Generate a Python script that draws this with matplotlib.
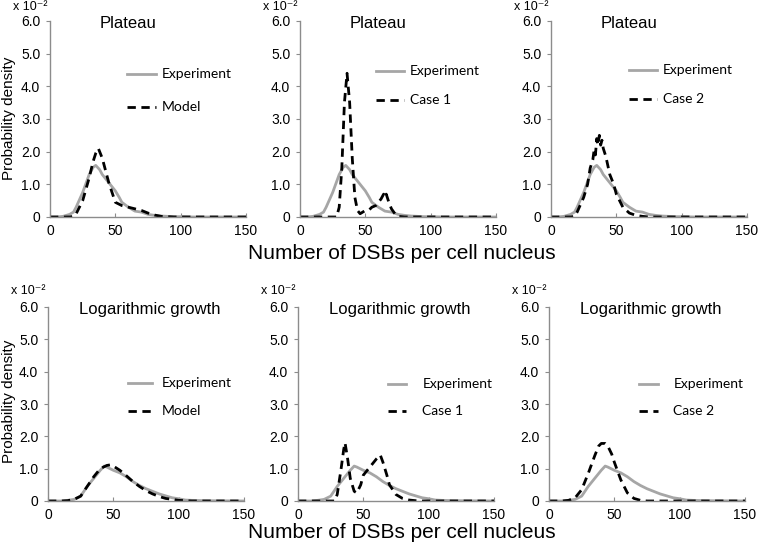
import matplotlib
matplotlib.use("Agg")
import matplotlib.pyplot as plt

# ---------------- data (values in units of 1e-2) ----------------
x_exp_plateau = [0, 5, 10, 15, 18, 20, 25, 30, 33, 35, 38, 40, 45, 50, 53, 55, 60, 65, 70, 75, 80, 85, 90, 95, 100, 110, 120, 150]
y_exp_plateau = [0, 0, 0.02, 0.08, 0.15, 0.3, 0.75, 1.3, 1.52, 1.58, 1.45, 1.3, 1.05, 0.8, 0.6, 0.45, 0.3, 0.18, 0.15, 0.08, 0.05, 0.03, 0.02, 0.01, 0.01, 0, 0, 0]

x_model_plateau = [0, 10, 15, 18, 20, 25, 30, 33, 35, 37, 40, 43, 45, 50, 55, 60, 65, 70, 75, 80, 85, 90, 95, 150]
y_model_plateau = [0, 0, 0, 0.02, 0.1, 0.5, 1.2, 1.7, 1.95, 2.1, 1.8, 1.35, 1.05, 0.45, 0.35, 0.3, 0.25, 0.2, 0.12, 0.06, 0.02, 0.01, 0, 0]

x_case1_plateau = [0, 25, 28, 30, 32, 34, 36, 38, 40, 42, 44, 46, 48, 50, 53, 55, 58, 60, 62, 64, 65, 66, 68, 70, 73, 75, 80, 150]
y_case1_plateau = [0, 0, 0, 0.3, 1.5, 3.5, 4.4, 3.5, 1.8, 0.6, 0.2, 0.1, 0.15, 0.2, 0.22, 0.3, 0.35, 0.45, 0.55, 0.7, 0.6, 0.7, 0.45, 0.25, 0.08, 0.02, 0, 0]

x_case2_plateau = [0, 15, 18, 20, 25, 28, 30, 32, 33, 34, 35, 36, 37, 38, 39, 40, 42, 45, 48, 50, 55, 60, 65, 70, 75, 150]
y_case2_plateau = [0, 0, 0.02, 0.15, 0.6, 1.0, 1.5, 1.75, 2.05, 1.9, 2.4, 2.2, 2.5, 2.2, 2.35, 2.1, 1.85, 1.3, 1.0, 0.7, 0.3, 0.12, 0.05, 0.02, 0, 0]

x_exp_log = [0, 10, 15, 20, 25, 30, 35, 40, 43, 45, 50, 55, 60, 65, 70, 75, 80, 85, 90, 95, 100, 105, 110, 120, 150]
y_exp_log = [0, 0, 0.02, 0.05, 0.15, 0.45, 0.7, 0.95, 1.08, 1.05, 0.95, 0.87, 0.75, 0.6, 0.48, 0.38, 0.3, 0.22, 0.16, 0.1, 0.07, 0.03, 0.02, 0.01, 0]

x_model_log = [0, 10, 15, 20, 25, 30, 35, 40, 45, 48, 50, 55, 60, 65, 70, 75, 80, 85, 90, 95, 100, 105, 110, 150]
y_model_log = [0, 0, 0.01, 0.05, 0.15, 0.45, 0.75, 1.0, 1.1, 1.12, 1.08, 0.95, 0.78, 0.6, 0.45, 0.32, 0.22, 0.14, 0.08, 0.05, 0.02, 0.01, 0, 0]

x_case1_log = [0, 25, 28, 30, 33, 35, 36, 38, 40, 43, 45, 48, 50, 55, 60, 63, 65, 68, 70, 75, 80, 85, 90, 95, 150]
y_case1_log = [0, 0, 0, 0.2, 1.0, 1.6, 1.8, 1.3, 0.7, 0.3, 0.25, 0.5, 0.8, 1.05, 1.3, 1.42, 1.2, 0.8, 0.5, 0.2, 0.08, 0.03, 0.01, 0, 0]

x_case2_log = [0, 10, 15, 20, 25, 30, 35, 38, 40, 43, 45, 48, 50, 55, 60, 65, 70, 75, 150]
y_case2_log = [0, 0, 0.02, 0.1, 0.35, 0.85, 1.4, 1.7, 1.78, 1.78, 1.7, 1.45, 1.2, 0.65, 0.25, 0.08, 0.02, 0, 0]

row_titles = ["Plateau", "Logarithmic growth"]
case_labels = ["Model", "Case 1", "Case 2"]
x_ticks = [0, 50, 100, 150]
y_ticks = [0, 1, 2, 3, 4, 5, 6]
y_tick_labels = ["0", "1.0", "2.0", "3.0", "4.0", "5.0", "6.0"]

exp_data = [(x_exp_plateau, y_exp_plateau), (x_exp_log, y_exp_log)]
sim_data = [
    [(x_model_plateau, y_model_plateau), (x_case1_plateau, y_case1_plateau), (x_case2_plateau, y_case2_plateau)],
    [(x_model_log, y_model_log), (x_case1_log, y_case1_log), (x_case2_log, y_case2_log)],
]

# ---------------- figure ----------------
W, H = 758, 549
fig = plt.figure(figsize=(W / 100, H / 100), dpi=100)

GRAY = "#a6a6a6"
SPINE = "#8c8c8c"
DASH = (0, (3, 2))
tick_font = "Liberation Sans"
leg_font = "Lato"

col_left = [[50, 300, 551], [48, 298, 549]]
ax_w = 196
rows = [(21, 217), (307, 501)]
ylabel_center = [118, 401]
title_x = [0.40, 0.52]
mult_y = [1.07, 1.08]
# legend geometry per panel: (line x0, line x1, text x, y experiment, y case)
legend_geom = [
    [(0.395, 0.54, 0.57, 0.73, 0.56), (0.39, 0.53, 0.56, 0.745, 0.597), (0.40, 0.54, 0.57, 0.75, 0.60)],
    [(0.406, 0.533, 0.58, 0.608, 0.464), (0.457, 0.553, 0.634, 0.603, 0.464), (0.46, 0.555, 0.634, 0.603, 0.464)],
]

for r in range(2):
    top, bot = rows[r]
    for c in range(3):
        ax = fig.add_axes([col_left[r][c] / W, 1 - bot / H, ax_w / W, (bot - top) / H])
        ex, ey = exp_data[r]
        sx, sy = sim_data[r][c]
        ax.plot(ex, ey, color=GRAY, lw=2.0, solid_capstyle="butt")
        ax.plot(sx, sy, color="black", lw=2.0, linestyle=DASH)
        ax.set_xlim(0, 150)
        ax.set_ylim(0, 6)
        ax.set_xticks(x_ticks)
        ax.set_yticks(y_ticks)
        ax.set_yticklabels(y_tick_labels)
        for s in ["top", "right"]:
            ax.spines[s].set_visible(False)
        for s in ["left", "bottom"]:
            ax.spines[s].set_color(SPINE)
            ax.spines[s].set_linewidth(1.0)
        ax.tick_params(axis="x", direction="in", length=3, color=SPINE, pad=5)
        ax.tick_params(axis="y", direction="out", length=3, color=SPINE, pad=4)
        for lab in ax.get_xticklabels() + ax.get_yticklabels():
            lab.set_fontfamily(tick_font)
            lab.set_fontsize(10)
        ax.text(title_x[r], 0.985, row_titles[r], transform=ax.transAxes, ha="center", va="center",
                fontsize=12, fontfamily=tick_font)
        ax.text(-0.19, mult_y[r], "x 10\u207b\u00b2", transform=ax.transAxes, ha="left", va="center",
                fontsize=9, fontfamily=[tick_font, "DejaVu Sans"])
        # legend
        lx0, lx1, tx, ly1, ly2 = legend_geom[r][c]
        ax.plot([lx0, lx1], [ly1, ly1], transform=ax.transAxes, color=GRAY, lw=2.0, clip_on=False)
        ax.plot([lx0, lx1], [ly2, ly2], transform=ax.transAxes, color="black", lw=2.0,
                linestyle=DASH, clip_on=False)
        ax.text(tx, ly1, "Experiment", transform=ax.transAxes, ha="left", va="center",
                fontsize=10, fontfamily=leg_font)
        ax.text(tx, ly2, case_labels[c], transform=ax.transAxes, ha="left", va="center",
                fontsize=10, fontfamily=leg_font)

    fig.text(9 / W, 1 - ylabel_center[r] / H, "Probability density", rotation=90,
             ha="center", va="center", fontsize=11, fontfamily=tick_font)

fig.text(402 / W, 1 - 254 / H, "Number of DSBs per cell nucleus", ha="center", va="center",
         fontsize=15, fontfamily=tick_font)
fig.text(402 / W, 1 - 533 / H, "Number of DSBs per cell nucleus", ha="center", va="center",
         fontsize=15, fontfamily=tick_font)

fig.savefig("out.png", dpi=100)
